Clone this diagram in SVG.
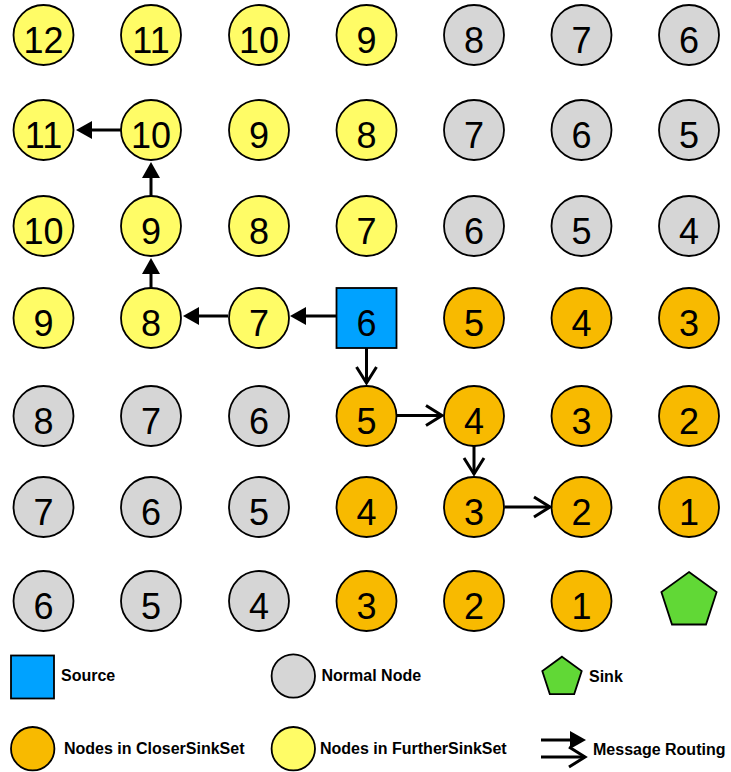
<svg xmlns="http://www.w3.org/2000/svg" width="731" height="772" viewBox="0 0 731 772">
<style>
.n{stroke:#000;stroke-width:1.8}
.y{fill:#FFFC66}
.g{fill:#D6D6D6}
.o{fill:#F8BA00}
.b{fill:#00A2FF}
.s{fill:#61D836}
.t{font-family:"Liberation Sans",Arial,sans-serif;font-size:36px;text-anchor:middle;fill:#000}
.l{font-family:"Liberation Sans",Arial,sans-serif;font-size:16px;font-weight:bold;fill:#000}
.c{stroke:#000;stroke-width:3;fill:none}
</style>
<defs>
<marker id="fa" markerUnits="userSpaceOnUse" markerWidth="16" markerHeight="18" refX="4" refY="9" orient="auto" overflow="visible">
<path d="M0,0 L16,9 L0,18 Z" fill="#000"/>
</marker>
<marker id="ca" markerUnits="userSpaceOnUse" markerWidth="18" markerHeight="22" refX="16" refY="10" orient="auto" overflow="visible">
<path d="M0,0 L16,10 L0,20" fill="none" stroke="#000" stroke-width="3"/>
</marker>
</defs>
<rect width="731" height="772" fill="#fff"/>
<g id="r1">
<g id="n1_1"><circle class="n y" cx="43.5" cy="35" r="30"/><text class="t" x="43.5" y="52.5">12</text></g>
<g id="n1_2"><circle class="n y" cx="151" cy="35" r="30"/><text class="t" x="151" y="52.5">11</text></g>
<g id="n1_3"><circle class="n y" cx="259" cy="35" r="30"/><text class="t" x="259" y="52.5">10</text></g>
<g id="n1_4"><circle class="n y" cx="366.5" cy="35" r="30"/><text class="t" x="366.5" y="52.5">9</text></g>
<g id="n1_5"><circle class="n g" cx="474" cy="35" r="30"/><text class="t" x="474" y="52.5">8</text></g>
<g id="n1_6"><circle class="n g" cx="581.5" cy="35" r="30"/><text class="t" x="581.5" y="52.5">7</text></g>
<g id="n1_7"><circle class="n g" cx="689" cy="35" r="30"/><text class="t" x="689" y="52.5">6</text></g>
</g>
<g id="r2">
<g id="n2_1"><circle class="n y" cx="43.5" cy="130" r="30"/><text class="t" x="43.5" y="147.5">11</text></g>
<g id="n2_2"><circle class="n y" cx="151" cy="130" r="30"/><text class="t" x="151" y="147.5">10</text></g>
<g id="n2_3"><circle class="n y" cx="259" cy="130" r="30"/><text class="t" x="259" y="147.5">9</text></g>
<g id="n2_4"><circle class="n y" cx="366.5" cy="130" r="30"/><text class="t" x="366.5" y="147.5">8</text></g>
<g id="n2_5"><circle class="n g" cx="474" cy="130" r="30"/><text class="t" x="474" y="147.5">7</text></g>
<g id="n2_6"><circle class="n g" cx="581.5" cy="130" r="30"/><text class="t" x="581.5" y="147.5">6</text></g>
<g id="n2_7"><circle class="n g" cx="689" cy="130" r="30"/><text class="t" x="689" y="147.5">5</text></g>
</g>
<g id="r3">
<g id="n3_1"><circle class="n y" cx="43.5" cy="226" r="30"/><text class="t" x="43.5" y="243.5">10</text></g>
<g id="n3_2"><circle class="n y" cx="151" cy="226" r="30"/><text class="t" x="151" y="243.5">9</text></g>
<g id="n3_3"><circle class="n y" cx="259" cy="226" r="30"/><text class="t" x="259" y="243.5">8</text></g>
<g id="n3_4"><circle class="n y" cx="366.5" cy="226" r="30"/><text class="t" x="366.5" y="243.5">7</text></g>
<g id="n3_5"><circle class="n g" cx="474" cy="226" r="30"/><text class="t" x="474" y="243.5">6</text></g>
<g id="n3_6"><circle class="n g" cx="581.5" cy="226" r="30"/><text class="t" x="581.5" y="243.5">5</text></g>
<g id="n3_7"><circle class="n g" cx="689" cy="226" r="30"/><text class="t" x="689" y="243.5">4</text></g>
</g>
<g id="r4">
<g id="n4_1"><circle class="n y" cx="43.5" cy="318" r="30"/><text class="t" x="43.5" y="335.5">9</text></g>
<g id="n4_2"><circle class="n y" cx="151" cy="318" r="30"/><text class="t" x="151" y="335.5">8</text></g>
<g id="n4_3"><circle class="n y" cx="259" cy="318" r="30"/><text class="t" x="259" y="335.5">7</text></g>
<g id="source"><rect class="n b" x="336.5" y="288" width="60" height="60"/><text class="t" x="366.5" y="335.5">6</text></g>
<g id="n4_5"><circle class="n o" cx="474" cy="318" r="30"/><text class="t" x="474" y="335.5">5</text></g>
<g id="n4_6"><circle class="n o" cx="581.5" cy="318" r="30"/><text class="t" x="581.5" y="335.5">4</text></g>
<g id="n4_7"><circle class="n o" cx="689" cy="318" r="30"/><text class="t" x="689" y="335.5">3</text></g>
</g>
<g id="r5">
<g id="n5_1"><circle class="n g" cx="43.5" cy="416" r="30"/><text class="t" x="43.5" y="433.5">8</text></g>
<g id="n5_2"><circle class="n g" cx="151" cy="416" r="30"/><text class="t" x="151" y="433.5">7</text></g>
<g id="n5_3"><circle class="n g" cx="259" cy="416" r="30"/><text class="t" x="259" y="433.5">6</text></g>
<g id="n5_4"><circle class="n o" cx="366.5" cy="416" r="30"/><text class="t" x="366.5" y="433.5">5</text></g>
<g id="n5_5"><circle class="n o" cx="474" cy="416" r="30"/><text class="t" x="474" y="433.5">4</text></g>
<g id="n5_6"><circle class="n o" cx="581.5" cy="416" r="30"/><text class="t" x="581.5" y="433.5">3</text></g>
<g id="n5_7"><circle class="n o" cx="689" cy="416" r="30"/><text class="t" x="689" y="433.5">2</text></g>
</g>
<g id="r6">
<g id="n6_1"><circle class="n g" cx="43.5" cy="507" r="30"/><text class="t" x="43.5" y="524.5">7</text></g>
<g id="n6_2"><circle class="n g" cx="151" cy="507" r="30"/><text class="t" x="151" y="524.5">6</text></g>
<g id="n6_3"><circle class="n g" cx="259" cy="507" r="30"/><text class="t" x="259" y="524.5">5</text></g>
<g id="n6_4"><circle class="n o" cx="366.5" cy="507" r="30"/><text class="t" x="366.5" y="524.5">4</text></g>
<g id="n6_5"><circle class="n o" cx="474" cy="507" r="30"/><text class="t" x="474" y="524.5">3</text></g>
<g id="n6_6"><circle class="n o" cx="581.5" cy="507" r="30"/><text class="t" x="581.5" y="524.5">2</text></g>
<g id="n6_7"><circle class="n o" cx="689" cy="507" r="30"/><text class="t" x="689" y="524.5">1</text></g>
</g>
<g id="r7">
<g id="n7_1"><circle class="n g" cx="43.5" cy="601" r="30"/><text class="t" x="43.5" y="618.5">6</text></g>
<g id="n7_2"><circle class="n g" cx="151" cy="601" r="30"/><text class="t" x="151" y="618.5">5</text></g>
<g id="n7_3"><circle class="n g" cx="259" cy="601" r="30"/><text class="t" x="259" y="618.5">4</text></g>
<g id="n7_4"><circle class="n o" cx="366.5" cy="601" r="30"/><text class="t" x="366.5" y="618.5">3</text></g>
<g id="n7_5"><circle class="n o" cx="474" cy="601" r="30"/><text class="t" x="474" y="618.5">2</text></g>
<g id="n7_6"><circle class="n o" cx="581.5" cy="601" r="30"/><text class="t" x="581.5" y="618.5">1</text></g>
<g id="sink"><polygon class="n s" points="689,572 716.6,592 706,624.5 672,624.5 661.4,592"/></g>
</g>
<g id="connectors">
<line class="c" x1="336" y1="316" x2="302" y2="316" marker-end="url(#fa)"/>
<line class="c" x1="228" y1="316" x2="195" y2="316" marker-end="url(#fa)"/>
<line class="c" x1="151" y1="288" x2="151" y2="270" marker-end="url(#fa)"/>
<line class="c" x1="151" y1="196" x2="151" y2="174" marker-end="url(#fa)"/>
<line class="c" x1="121" y1="130" x2="88" y2="130" marker-end="url(#fa)"/>
<line class="c" x1="366.5" y1="348" x2="366.5" y2="383" marker-end="url(#ca)"/>
<line class="c" x1="396.5" y1="415.5" x2="442" y2="415.5" marker-end="url(#ca)"/>
<line class="c" x1="474" y1="446" x2="474" y2="474" marker-end="url(#ca)"/>
<line class="c" x1="504.5" y1="507" x2="550" y2="507" marker-end="url(#ca)"/>
</g>
<g id="legend">
<g id="lg_source"><rect class="n b" x="11" y="655.5" width="43" height="43"/><text class="l" x="61" y="681">Source</text></g>
<g id="lg_normal"><circle class="n g" cx="293.3" cy="676" r="21.7"/><text class="l" x="321.5" y="681">Normal Node</text></g>
<g id="lg_sink"><polygon class="n s" points="562,656.7 581.7,671 574.2,694.1 549.8,694.1 542.3,671"/><text class="l" x="589" y="682">Sink</text></g>
<g id="lg_closer"><circle class="n o" cx="32.7" cy="748.7" r="21.7"/><text class="l" x="64" y="753.5">Nodes in CloserSinkSet</text></g>
<g id="lg_further"><circle class="n y" cx="293.3" cy="748.7" r="21.7"/><text class="l" x="320" y="753.5">Nodes in FurtherSinkSet</text></g>
<g id="lg_routing">
<line class="c" x1="541" y1="740" x2="574" y2="740" marker-end="url(#fa)"/>
<line class="c" x1="541" y1="757" x2="585" y2="757" marker-end="url(#ca)"/>
<text class="l" x="593" y="755">Message Routing</text>
</g>
</g>
</svg>
